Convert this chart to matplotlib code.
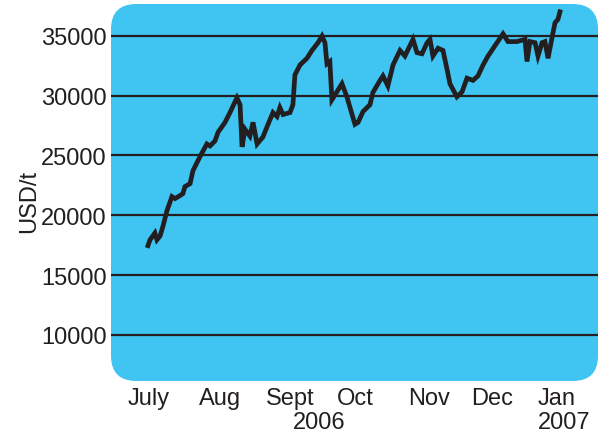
import matplotlib.pyplot as plt
from matplotlib.patches import FancyBboxPatch

# days since 1 July 2006 (approx) and price in USD/t
days = [0, 0.9, 3.1, 4.0, 5.4, 6.7, 8.5, 10.7, 12.1, 14.3, 15.6, 16.5, 18.8, 20.1,
        23.2, 26.3, 27.7, 29.9, 31.3, 34.4, 36.6, 39.7, 41.1, 42.0, 43.3, 45.5,
        46.9, 48.7, 51.3, 53.6, 55.8, 57.6, 58.9, 60.3, 63.4, 64.7, 65.6, 67.9,
        71.0, 73.2, 75.9, 77.7, 79.0, 79.9, 81.2, 82.1, 83.5, 86.6, 88.8, 92.4,
        93.8, 96.0, 99.1, 100.4, 103.6, 104.9, 107.1, 109.4, 112.5, 114.7, 118.3,
        120.1, 122.3, 124.6, 125.9, 127.2, 129.5, 131.7, 133.5, 134.8, 137.9,
        140.2, 142.4, 145.1, 147.3, 149.6, 151.8, 155.8, 158.5, 160.7, 164.7,
        168.3, 169.2, 170.5, 172.8, 174.1, 175.9, 177.2, 178.6, 180.4, 181.7,
        183.0, 183.9]
price = [17460, 17945, 18514, 17945, 18270, 19082, 20393, 21560, 21393, 21643,
         21810, 22393, 22643, 23726, 24892, 25957, 25793, 26203, 26941, 27761,
         28581, 29811, 29237, 25711, 27187, 26613, 27761, 25957, 26531, 27597,
         28581, 28253, 28991, 28417, 28581, 29237, 31731, 32565, 33120, 33768,
         34417, 34972, 34417, 32657, 32842, 29647, 30064, 30990, 29893, 27597,
         27761, 28663, 29237, 30250, 31268, 31639, 30805, 32565, 33768, 33305,
         34694, 33583, 33491, 34417, 34694, 33305, 33954, 33768, 32194, 30990,
         29893, 30305, 31453, 31268, 31639, 32565, 33305, 34417, 35157, 34509,
         34509, 34694, 32842, 34509, 34417, 33305, 34417, 34509, 33120, 34880,
         36083, 36361, 37000]

month_pos = [0.4, 32.1, 63.4, 92.4, 125.4, 153.6, 182.6]
month_labels = ["July", "Aug", "Sept", "Oct", "Nov", "Dec", "Jan"]
year_pos = [76.3, 185.7]
year_labels = ["2006", "2007"]
yticks = [10000, 15000, 20000, 25000, 30000, 35000]

plt.rcParams["font.family"] = ["Liberation Sans", "DejaVu Sans"]
dark = "#231f20"

fig = plt.figure(figsize=(6, 4.35), dpi=100)
ax = fig.add_axes([0.185, 0.1218, 0.8117, 0.8667])
ax.patch.set_visible(False)
for s in ax.spines.values():
    s.set_visible(False)

box = FancyBboxPatch((0, 0), 1, 1, boxstyle="round,pad=0,rounding_size=0.052",
                     transform=ax.transAxes, mutation_aspect=487 / 377,
                     facecolor="#40c4f2", edgecolor="none", zorder=0)
ax.add_patch(box)

ax.plot(days, price, color=dark, linewidth=3.4, zorder=3, solid_joinstyle="miter")

ax.set_xlim(-16.5, 200.9)
ax.set_ylim(6150, 37650)
ax.set_yticks(yticks)
ax.set_yticklabels([str(v) for v in yticks])
ax.set_xticks(month_pos)
ax.set_xticklabels(month_labels)
ax.tick_params(axis="y", length=0, pad=3, labelsize=17, colors=dark)
ax.tick_params(axis="x", length=0, pad=4, labelsize=17, colors=dark)
ax.grid(axis="y", color=dark, linewidth=1.6)

for p, lab in zip(year_pos, year_labels):
    ax.text(p, -0.08, lab, transform=ax.get_xaxis_transform(), ha="center",
            va="top", fontsize=17, color=dark)

fig.text(29 / 600, 1 - 201 / 435, "USD/t", rotation=90, ha="center", va="center",
         fontsize=17, color=dark)

fig.savefig("out.png", dpi=100)
